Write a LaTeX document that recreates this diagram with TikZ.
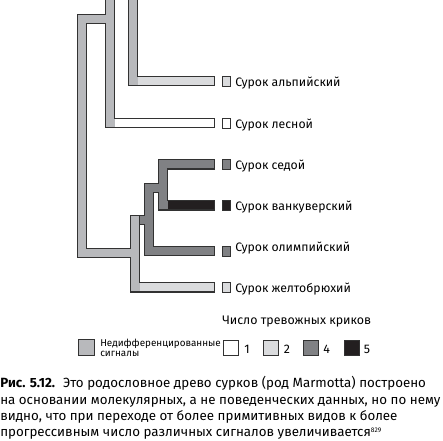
\documentclass[tikz,border=0pt]{standalone}
\usepackage{fontspec}
\setmainfont{Fira Sans}
\definecolor{undiffgray}{RGB}{184,185,188}
\definecolor{twogray}{RGB}{218,219,221}
\definecolor{fourgray}{RGB}{128,129,132}
\definecolor{fiveblack}{RGB}{35,31,32}
\definecolor{edgegray}{RGB}{50,50,50}
\tikzset{
  tubeedge/.style={draw=edgegray,line width=7.6pt,line cap=rect,line join=miter},
  tubefill/.style={line width=6pt,line cap=rect,line join=miter},
  marker/.style={draw=edgegray,line width=0.6pt,minimum width=6pt,minimum height=7.5pt,inner sep=0pt},
  lbl/.style={font=\fontsize{9.2pt}{11pt}\selectfont,anchor=base west,inner sep=0pt},
  lgd/.style={font=\fontsize{9.3pt}{11pt}\selectfont,anchor=base west,inner sep=0pt},
  small/.style={font=\fontsize{7.4pt}{9pt}\selectfont,anchor=base west,inner sep=0pt},
  captxt/.style={font=\fontsize{10pt}{12pt}\selectfont,anchor=base west,inner sep=0pt},
  lbox/.style={draw=edgegray,line width=0.6pt,minimum width=11.3pt,minimum height=11.3pt,inner sep=0pt},
}
\begin{document}
\begin{tikzpicture}[x=0.75pt,y=-0.75pt]
\useasboundingbox (0,0) rectangle (443,441);
\begin{scope}
\clip (0,0) rectangle (443,441);
% outline layer
\draw[tubeedge] (110,-10) -- (110,123) -- (210,123);
\draw[tubeedge] (110,19) -- (82,19) -- (82,253) -- (135,253);
\draw[tubeedge] (133,-10) -- (133,81) -- (210,81);
\draw[tubeedge] (210,287.5) -- (135,287.5) -- (135,220);
\draw[tubeedge] (144,220) -- (149,220);
\draw[tubeedge] (210,251) -- (149,251) -- (149,188) -- (163,188);
\draw[tubeedge] (210,164.5) -- (163,164.5) -- (163,205.5) -- (210,205.5);
% fill layer
\draw[tubefill,draw=undiffgray] (110,-10) -- (110,123) -- (210,123);
\draw[tubefill,draw=undiffgray] (110,19) -- (82,19) -- (82,253) -- (135,253);
\draw[tubefill,draw=undiffgray] (133,-10) -- (133,81) -- (210,81);
\draw[tubefill,draw=undiffgray] (210,287.5) -- (135,287.5) -- (135,220);
\draw[tubefill,draw=fourgray] (144,220) -- (149,220);
\draw[tubefill,draw=fourgray] (210,251) -- (149,251) -- (149,188) -- (163,188);
\draw[tubefill,draw=fourgray] (210,164.5) -- (163,164.5) -- (163,205.5) -- (210,205.5);
% leaf colours
\fill[white] (115,119) rectangle (214,127);
\fill[twogray] (138,77) rectangle (214,85);
\fill[twogray] (140,283.5) rectangle (214,291.5);
\fill[fiveblack] (168,201.5) rectangle (214,209.5);
\end{scope}
% markers and labels
\node[marker,fill=twogray] (m1) at (226,81) {};
\node[marker,fill=white] (m2) at (226,123) {};
\node[marker,fill=fourgray] (m3) at (226,164.5) {};
\node[marker,fill=fiveblack] (m4) at (226,205.5) {};
\node[marker,fill=fourgray] (m5) at (226,251) {};
\node[marker,fill=twogray] (m6) at (226,287.5) {};
\node[lbl] (t1) at (235,87) {Сурок альпийский};
\node[lbl] (t2) at (235,128.5) {Сурок лесной};
\node[lbl] (t3) at (235,169.5) {Сурок седой};
\node[lbl] (t4) at (235,210.5) {Сурок ванкуверский};
\node[lbl] (t5) at (235,252) {Сурок олимпийский};
\node[lbl] (t6) at (235,292.5) {Сурок желтобрюхий};
% legend
\node[lgd] (lt) at (222,324.5) {Число тревожных криков};
\node[lbox,fill=undiffgray,minimum width=12pt,minimum height=12pt] (b0) at (86,347) {};
\node[small] (u1) at (100,346.5) {Недифференцированные};
\node[small] (u2) at (100,356.5) {сигналы};
\node[lbox,fill=white] (b1) at (230.5,347.5) {};
\node[lgd] (n1) at (244,354) {1};
\node[lbox,fill=twogray] (b2) at (270.5,347.5) {};
\node[lgd] (n2) at (283.5,354) {2};
\node[lbox,fill=fourgray] (b4) at (310.5,347.5) {};
\node[lgd] (n4) at (323,354) {4};
\node[lbox,fill=fiveblack] (b5) at (352,347.5) {};
\node[lgd] (n5) at (363.5,354) {5};
% caption
\node[captxt] (c1) at (0,388) {\textbf{Рис. 5.12.}\hspace{0.6em}Это родословное древо сурков (род Marmotta) построено};
\node[captxt] (c2) at (0,404.5) {на основании молекулярных, а не поведенческих данных, но по нему};
\node[captxt] (c3) at (0,421) {видно, что при переходе от более примитивных видов к более};
\node[captxt] (c4) at (0,437) {прогрессивным число различных сигналов увеличивается\textsuperscript{\fontsize{5pt}{6pt}\selectfont 829}};
\end{tikzpicture}
\end{document}
